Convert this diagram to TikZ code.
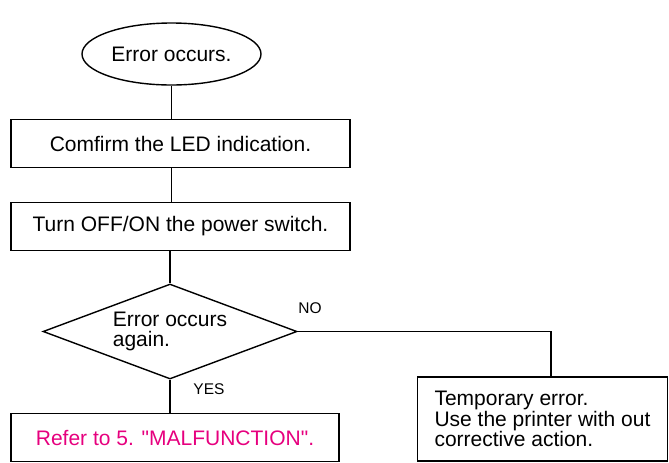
\documentclass[tikz,border=0pt]{standalone}
\usepackage{fontspec}
\setmainfont{Liberation Sans}
\usepackage{xcolor}
\usetikzlibrary{shapes.geometric,positioning,calc}
\definecolor{cRef}{HTML}{E6007E}
\tikzset{
  term/.style ={ellipse, draw=black, inner sep=0pt, minimum width=89.5pt,
                minimum height=31pt, font=\fontsize{10.5}{10.25}\selectfont},
  proc/.style ={rectangle, draw=black, align=center, inner sep=0pt,
                minimum height=24pt, font=\fontsize{10.5}{10.25}\selectfont},
  dec/.style  ={diamond, aspect=2.67, draw=black, align=left, inner sep=0pt,
                minimum width=127pt, minimum height=47.5pt,
                font=\fontsize{10.5}{10.25}\selectfont},
  fl/.style   ={draw=black},
  lbl/.style  ={font=\fontsize{7.75}{9}\selectfont, inner sep=1pt},
}
\begin{document}
\begin{tikzpicture}[x=0.5pt,y=-0.5pt,line width=0.7pt]
  \useasboundingbox (0,0) rectangle (669,462);
  \node[term] (start) at (171.5,54) {Error occurs.};
  \node[proc,minimum width=169.5pt] (led) at (180.5,143.5) {Comfirm the LED indication.};
  \node[proc,minimum width=169.5pt] (pw) at (180.5,226.5) {Turn OFF/ON the power switch.};
  \node[dec] (again) at (170,331.5) {Error occurs\\again.};
  \node[proc,minimum width=164pt,text=cRef] (mal) at (175,437.5)
    {Refer to 5. \textquotedbl MALFUNCTION\textquotedbl.};
  \node[proc,align=left,minimum width=125pt,minimum height=42pt] (tmp) at (542.5,419)
    {Temporary error.\\Use the printer with out\\corrective action.};
  \node[lbl] (no) at (310,308) {NO};
  \node[lbl] (yes) at (209,389) {YES};
  \draw[fl](start.south)--(start.south|-led.north);
  \draw[fl](start.south|-led.south)--(start.south|-pw.north);
  \draw[fl](again.north|-pw.south)--(again.north);
  \draw[fl](again.south)--(again.south|-mal.north);
  \draw[fl](again.east)-|([xshift=4.25pt]tmp.north);
\end{tikzpicture}
\end{document}
